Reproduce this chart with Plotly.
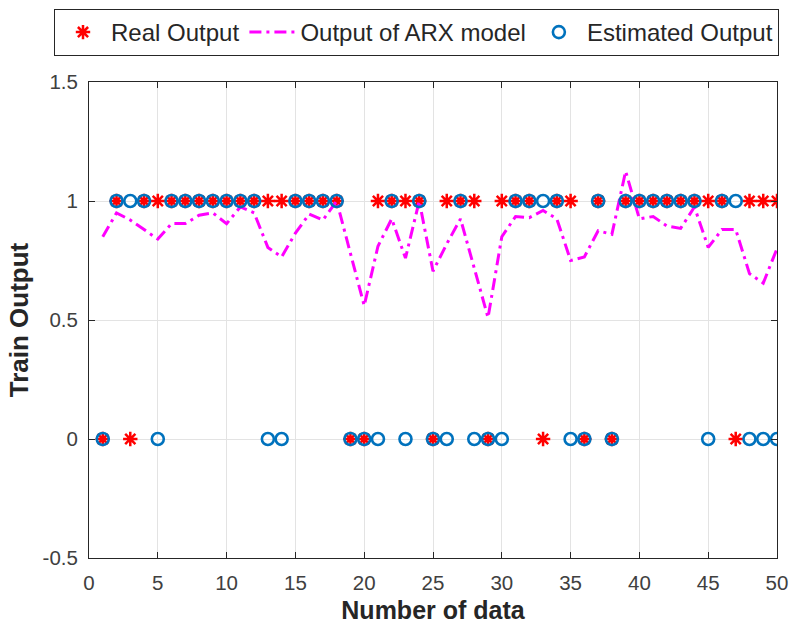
import plotly.graph_objects as go

x_data = list(range(1, 51))
real_output = [0, 1, 0, 1, 1, 1, 1, 1, 1, 1, 1, 1, 1, 1, 1, 1, 1, 1, 0, 0,
               1, 1, 1, 1, 0, 1, 1, 1, 0, 1, 1, 1, 0, 1, 1, 0, 1, 0, 1, 1,
               1, 1, 1, 1, 1, 1, 0, 1, 1, 1]
estimated_output = [0, 1, 1, 1, 0, 1, 1, 1, 1, 1, 1, 1, 0, 0, 1, 1, 1, 1, 0, 0,
                    0, 1, 0, 1, 0, 0, 1, 0, 0, 0, 1, 1, 1, 1, 0, 0, 1, 0, 1, 1,
                    1, 1, 1, 1, 0, 1, 1, 0, 0, 0]
arx_output = [0.85, 0.95, 0.92, 0.88, 0.84, 0.905, 0.905, 0.94, 0.95, 0.905,
              0.975, 0.95, 0.805, 0.765, 0.865, 0.945, 0.92, 1.0, 0.78, 0.56,
              0.81, 0.925, 0.76, 1.0, 0.705, 0.82, 0.925, 0.72, 0.51, 0.85,
              0.935, 0.93, 0.96, 0.925, 0.75, 0.765, 0.875, 0.86, 1.125, 0.925,
              0.935, 0.895, 0.885, 0.975, 0.805, 0.88, 0.88, 0.695, 0.655, 0.80]

x_ticks = [0, 5, 10, 15, 20, 25, 30, 35, 40, 45, 50]
y_ticks = [-0.5, 0, 0.5, 1, 1.5]
y_tick_labels = ["-0.5", "0", "0.5", "1", "1.5"]

FONT = "Liberation Sans, Arial, sans-serif"
AXIS_COLOR = "#262626"
TICK_COLOR = "#404040"
GRID_COLOR = "#e3e3e3"

W, H = 790, 626
ML, MR, MT, MB = 89, 13, 82, 68
PW, PH = W - ML - MR, H - MT - MB

fig = go.Figure()
fig.add_trace(go.Scatter(
    x=x_data, y=real_output, mode="markers", name="Real Output",
    marker=dict(symbol="asterisk-open", size=12, color="#ff0000",
                line=dict(color="#ff0000", width=2.5)),
))
fig.add_trace(go.Scatter(
    x=x_data, y=arx_output, mode="lines", name="Output of ARX model",
    line=dict(color="#ff00ff", width=3, dash="12px,5px,3px,5px"),
))
fig.add_trace(go.Scatter(
    x=x_data, y=estimated_output, mode="markers", name="Estimated Output",
    marker=dict(symbol="circle-open", size=12, color="#0072bd",
                line=dict(color="#0072bd", width=2.6)),
))

fig.update_layout(
    width=W, height=H,
    margin=dict(l=ML, r=MR, t=MT, b=MB, autoexpand=False),
    paper_bgcolor="white", plot_bgcolor="white",
    font=dict(family=FONT, color=TICK_COLOR),
    showlegend=True,
    legend=dict(
        orientation="h", xref="paper", yref="paper",
        x=(54 - ML) / PW, xanchor="left", y=1 + (MT - 9) / PH, yanchor="top",
        bordercolor=AXIS_COLOR, borderwidth=1, bgcolor="white",
        font=dict(family=FONT, size=24, color="#262626"),
        itemwidth=46, tracegroupgap=0,
    ),
    xaxis=dict(
        range=[0, 50], tickvals=x_ticks, ticks="inside", ticklen=6,
        tickcolor=AXIS_COLOR, showline=True, linecolor=AXIS_COLOR, linewidth=1,
        mirror="ticks", showgrid=True, gridcolor=GRID_COLOR, gridwidth=1,
        zeroline=False, tickfont=dict(family=FONT, size=20.5, color=TICK_COLOR),
        ticklabelstandoff=6, automargin=False,
        title=dict(text="<b>Number of data</b>", standoff=8,
                   font=dict(family=FONT, size=25, color="#262626")),
    ),
    yaxis=dict(
        range=[-0.5, 1.5], tickvals=y_ticks, ticktext=y_tick_labels,
        ticks="inside", ticklen=6,
        tickcolor=AXIS_COLOR, showline=True, linecolor=AXIS_COLOR, linewidth=1,
        mirror="ticks", showgrid=True, gridcolor=GRID_COLOR, gridwidth=1,
        zeroline=False, tickfont=dict(family=FONT, size=20.5, color=TICK_COLOR),
        ticklabelstandoff=6, automargin=False,
        title=dict(text="<b>Train Output</b>", standoff=6,
                   font=dict(family=FONT, size=26, color="#262626")),
    ),
)

fig.write_html(
    "out.html",
    config={"displayModeBar": False},
    post_script="document.body.style.margin='0px';"
                "document.documentElement.style.overflow='hidden';",
)
